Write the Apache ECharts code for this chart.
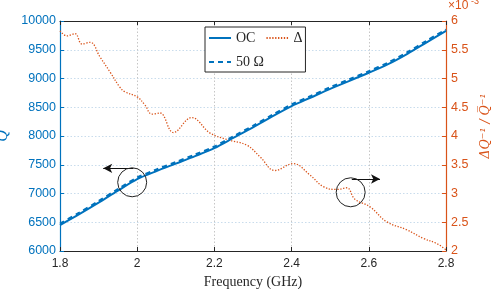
<!DOCTYPE html>
<html><head><meta charset="utf-8">
<script src="https://cdn.jsdelivr.net/npm/echarts@6/dist/echarts.min.js"></script>
<style>html,body{margin:0;padding:0;background:#fff}#c{width:491px;height:289px}</style>
</head><body><div id="c"></div>
<script>
// ---- data ----
const freqQ = [1.8,1.85,1.9,1.95,2.0,2.05,2.1,2.15,2.2,2.25,2.3,2.35,2.4,2.45,2.5,2.55,2.6,2.65,2.7,2.75,2.8];
const qOC   = [6450,6640,6840,7050,7250,7390,7520,7650,7790,7970,8150,8340,8520,8670,8820,8960,9100,9250,9430,9630,9830];
const q50   = [6475,6665,6865,7075,7275,7415,7545,7675,7815,7995,8175,8365,8545,8695,8845,8985,9125,9275,9455,9655,9850];
const freqD = [1.8,1.818,1.839,1.857,1.878,1.904,1.930,1.955,1.968,2.0,2.02,2.038,2.059,2.094,2.141,2.189,2.232,2.284,2.318,2.357,2.404,2.448,2.482,2.517,2.543,2.564,2.603,2.646,2.698,2.741,2.776,2.8];
const delta = [5.83,5.74,5.78,5.60,5.63,5.37,5.11,4.85,4.77,4.68,4.54,4.38,4.40,4.06,4.32,4.05,3.94,3.84,3.64,3.40,3.52,3.32,3.12,3.07,3.10,2.90,2.77,2.51,2.37,2.22,2.13,2.02];
const xTicks = [1.8,2.8,0.2];
const yLeftTicks = [6000,10000,500];
const yRightTicks = [2,6,0.5];
// annotation anchors (data coords: freq, Q)
const circles = [[1.987,7195],[2.553,7021]];
const arrows = [[[1.990,7438],[1.912,7438]],[[2.556,7252],[2.629,7252]]];

const BLUE = '#0072BD', ORANGE = '#D95319', DARK = '#262626';
const chart = echarts.init(document.getElementById('c'));
const pairs = (xs, ys) => xs.map((x,i)=>[x, ys[i]]);
const fmt = v => (Math.round(v*10)/10).toString();

chart.setOption({
  animation: false,
  grid: {left: 60, right: 45, top: 21, bottom: 38, containLabel: false, outerBoundsMode: 'none'},
  legend: {
    data: ['OC','Δ','50 Ω'],
    left: 205, top: 27, width: 95,
    orient: 'horizontal',
    itemWidth: 22, itemHeight: 8, itemGap: 10,
    padding: [4, 3, 3, 3],
    backgroundColor: '#fff', borderColor: DARK, borderWidth: 1,
    itemStyle: {opacity: 0},
    textStyle: {fontFamily: 'Liberation Serif', fontSize: 14, color: DARK, lineHeight: 9}
  },
  xAxis: [{
    type: 'value', min: xTicks[0], max: xTicks[1], interval: xTicks[2], position: 'bottom',
    axisLine: {lineStyle: {color: DARK}},
    axisTick: {inside: true, length: 4, lineStyle: {color: DARK}},
    axisLabel: {color: DARK, fontFamily: 'Liberation Sans', fontSize: 12, margin: 7, formatter: fmt},
    splitLine: {show: true, lineStyle: {color: '#c6c6c6', type: [1.5,2]}},
    name: 'Frequency (GHz)', nameLocation: 'middle', nameGap: 22,
    nameTextStyle: {fontFamily: 'Liberation Serif', fontSize: 14, color: DARK}
  },{
    type: 'value', min: xTicks[0], max: xTicks[1], interval: xTicks[2], position: 'top',
    axisLine: {lineStyle: {color: DARK}},
    axisTick: {inside: true, length: 4, lineStyle: {color: DARK}},
    axisLabel: {show: false}, splitLine: {show: false}
  }],
  yAxis: [{
    type: 'value', min: yLeftTicks[0], max: yLeftTicks[1], interval: yLeftTicks[2], position: 'left',
    axisLine: {show: true, lineStyle: {color: BLUE, width: 1.2}},
    axisTick: {show: true, inside: true, length: 4, lineStyle: {color: BLUE}},
    axisLabel: {color: BLUE, fontFamily: 'Liberation Sans', fontSize: 12.5, margin: 4, formatter: v => String(v)},
    splitLine: {show: true, lineStyle: {color: '#c9dcec', type: [1.5,2]}},
    name: 'Q', nameLocation: 'middle', nameGap: 45, nameRotate: 90,
    nameTextStyle: {fontFamily: 'Liberation Serif', fontStyle: 'italic', fontSize: 16, color: BLUE}
  },{
    type: 'value', min: yRightTicks[0], max: yRightTicks[1], interval: yRightTicks[2], position: 'right',
    axisLine: {show: true, lineStyle: {color: ORANGE, width: 1.2}},
    axisTick: {show: true, inside: true, length: 4, lineStyle: {color: ORANGE}},
    axisLabel: {color: ORANGE, fontFamily: 'Liberation Sans', fontSize: 12.5, margin: 5, formatter: fmt},
    splitLine: {show: false},
    name: 'ΔQ⁻¹ / Q\u0305⁻¹', nameLocation: 'middle', nameGap: 30, nameRotate: 90,
    nameTextStyle: {fontFamily: 'DejaVu Serif', fontStyle: 'italic', fontSize: 12.5, color: ORANGE, padding: [0, 0, 0, 20]}
  }],
  graphic: [{
    type: 'text', left: 448, top: 0,
    style: {text: '×10', fill: ORANGE, font: '12px Liberation Sans'}
  },{
    type: 'text', left: 471, top: -3,
    style: {text: '-3', fill: ORANGE, font: '9px Liberation Sans'}
  }],
  series: [{
    name: 'OC', type: 'line', data: pairs(freqQ, qOC), smooth: 0.3, symbol: 'none',
    lineStyle: {color: BLUE, width: 2}, itemStyle: {color: BLUE}, z: 3,
    markPoint: {
      silent: true, symbol: 'circle', symbolSize: 29,
      itemStyle: {color: 'rgba(0,0,0,0)', borderColor: '#222', borderWidth: 1},
      label: {show: false},
      data: circles.map(c => ({coord: c}))
    },
    markLine: {
      silent: true, symbol: ['none','arrow'], symbolSize: [7,9],
      lineStyle: {color: '#111', width: 1, type: 'solid'}, label: {show: false},
      data: arrows.map(a => [{coord: a[0]},{coord: a[1]}])
    }
  },{
    name: '50 Ω', type: 'line', data: pairs(freqQ, q50), smooth: 0.3, symbol: 'none',
    lineStyle: {color: BLUE, width: 2.3, type: [5,4]}, itemStyle: {color: BLUE}, z: 4
  },{
    name: 'Δ', type: 'line', yAxisIndex: 1, data: pairs(freqD, delta), smooth: 0.4, symbol: 'none',
    lineStyle: {color: ORANGE, width: 1.3, type: [1.3,1.6]}, itemStyle: {color: ORANGE}, z: 2
  }]
});
</script></body></html>
